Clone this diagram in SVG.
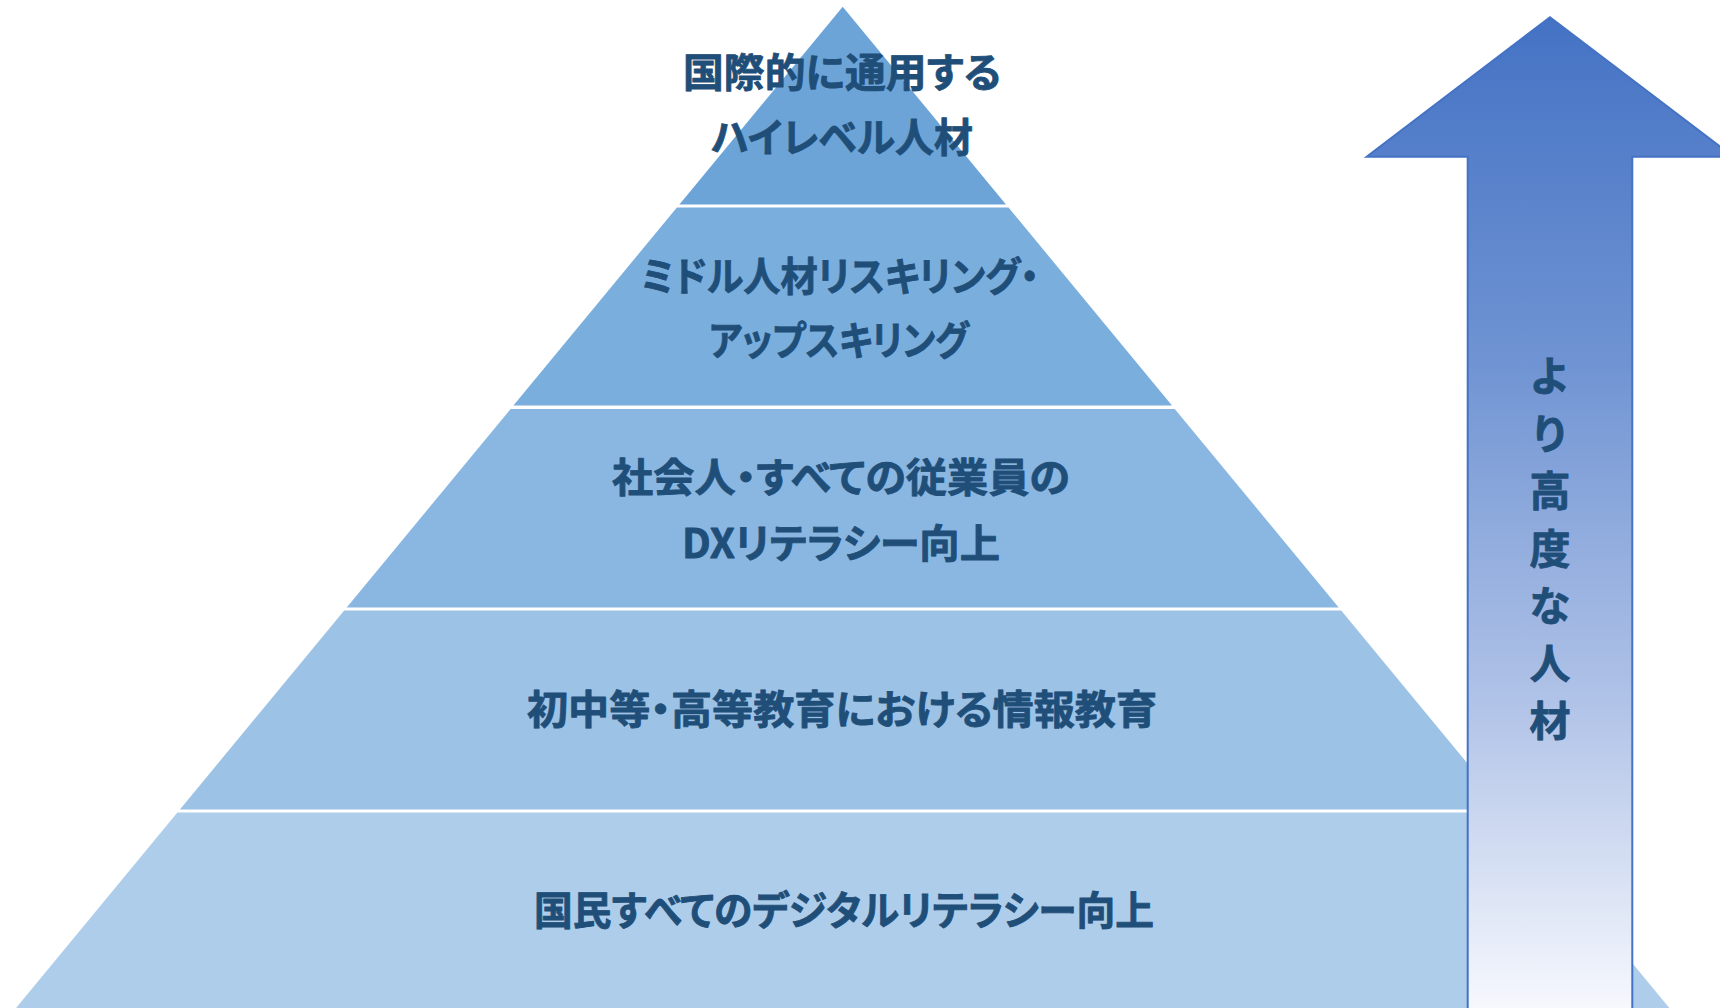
<svg xmlns="http://www.w3.org/2000/svg" width="1720" height="1008" viewBox="0 0 1720 1008">
  <defs>
    <linearGradient id="arrowGrad" gradientUnits="userSpaceOnUse" x1="0" y1="17" x2="0" y2="1008">
      <stop offset="0" stop-color="#4472C4"/>
      <stop offset="0.35" stop-color="#7094D3"/>
      <stop offset="0.7" stop-color="#B2C4E8"/>
      <stop offset="1" stop-color="#F6F8FD"/>
    </linearGradient>
    <style>
      .lbl { font-family: "Noto Sans CJK JP", "Noto Sans", sans-serif; font-weight: 700; font-size: 40px; fill: #1F4E79; stroke: #1F4E79; stroke-width: 0.8px; stroke-linejoin: round; text-anchor: middle; font-feature-settings: "palt" 1; }
      .vert { font-family: "Noto Sans CJK JP", "Noto Sans", sans-serif; font-weight: 700; font-size: 41px; fill: #1F4E79; stroke: #1F4E79; stroke-width: 0.8px; stroke-linejoin: round; text-anchor: middle; }
    </style>
  </defs>
  <rect x="0" y="0" width="1720" height="1008" fill="#FFFFFF"/>

  <g id="layer1">
    <polygon points="842.7,6.7 1006.0,204.5 679.4,204.5" fill="#6CA4D8"/>
    <text class="lbl" x="842" y="87" textLength="318" lengthAdjust="spacingAndGlyphs">国際的に通用する</text>
    <text class="lbl" x="842" y="152" textLength="262" lengthAdjust="spacingAndGlyphs">ハイレベル人材</text>
  </g>
  <g id="layer2">
    <polygon points="676.9,207.5 1008.5,207.5 1172.0,405.5 513.4,405.5" fill="#7AAEDD"/>
    <text class="lbl" x="840" y="291" textLength="398" lengthAdjust="spacingAndGlyphs">ミドル人材リスキリング・</text>
    <text class="lbl" x="839" y="355" textLength="260" lengthAdjust="spacingAndGlyphs">アップスキリング</text>
  </g>
  <g id="layer3">
    <polygon points="510.6,409 1174.8,409 1338.7,607.5 346.7,607.5" fill="#8AB7E1"/>
    <text class="lbl" x="841" y="492" textLength="458" lengthAdjust="spacingAndGlyphs">社会人・すべての従業員の</text>
    <text class="lbl" x="841" y="558" textLength="318" lengthAdjust="spacingAndGlyphs">DXリテラシー向上</text>
  </g>
  <g id="layer4">
    <polygon points="344.2,610.5 1341.2,610.5 1505.5,809.5 179.9,809.5" fill="#9CC2E5"/>
    <text class="lbl" x="842" y="724" textLength="630" lengthAdjust="spacingAndGlyphs">初中等・高等教育における情報教育</text>
  </g>
  <g id="layer5">
    <polygon points="177.4,812.5 1508.0,812.5 1671.0,1010 14.4,1010" fill="#AECDEA"/>
    <text class="lbl" x="844" y="925" textLength="620" lengthAdjust="spacingAndGlyphs">国民すべてのデジタルリテラシー向上</text>
  </g>

  <g id="connectors"></g>

  <g id="arrow">
    <polygon points="1550,17.3 1733.3,156.7 1632.3,156.7 1632.3,1012 1467.7,1012 1467.7,156.7 1366.7,156.7" fill="url(#arrowGrad)" stroke="#4472C4" stroke-width="2" stroke-linejoin="miter"/>
    <text class="vert" x="1550" y="391">よ</text>
    <text class="vert" x="1550" y="448.5">り</text>
    <text class="vert" x="1550" y="506">高</text>
    <text class="vert" x="1550" y="563.5">度</text>
    <text class="vert" x="1550" y="621">な</text>
    <text class="vert" x="1550" y="678.5">人</text>
    <text class="vert" x="1550" y="736">材</text>
  </g>
</svg>
